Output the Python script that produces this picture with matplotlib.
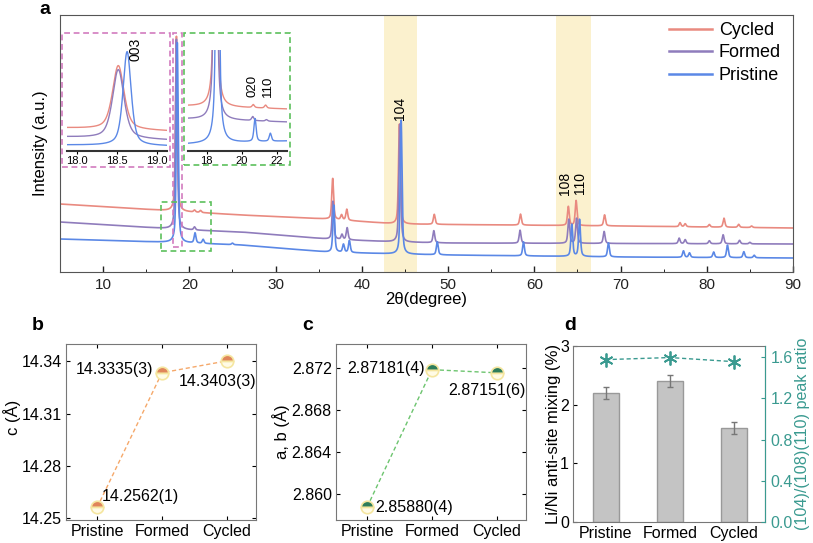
import matplotlib
matplotlib.use("Agg")
import matplotlib.pyplot as plt
import numpy as np
from matplotlib.patches import Rectangle

plt.rcParams["font.family"] = ["Liberation Sans", "DejaVu Sans"]

W, H = 813, 543

# ---- panel a: XRD patterns (peak positions in 2theta, heights above background, a.u.)
samples = ["Cycled", "Formed", "Pristine"]
colors = ["#e98a80", "#8f7cbc", "#5b88e6"]

bg_deg = [5, 20, 26, 36, 44, 50, 70, 90]
cycled_bg = [68, 60, 57, 53, 48, 47.5, 46, 44]
formed_bg = [50, 42, 40, 33, 30, 29, 28.5, 28]
pristine_bg = [33, 29, 27, 20, 18, 17, 15, 14]

cycled_pos = [18.50, 20.6, 21.3, 36.62, 37.65, 38.26, 44.36, 48.40, 58.40, 63.95, 64.85,
              68.15, 76.9, 77.5, 80.3, 82.0, 83.7, 85.2]
cycled_hgt = [175, 2, 2, 41, 5, 11, 100, 10, 11, 19, 25, 11, 4, 3, 2.5, 9, 3, 1.5]
formed_pos = [18.50, 20.6, 36.65, 37.7, 38.3, 44.40, 48.35, 58.35, 64.0, 64.9, 68.1,
              76.8, 77.5, 80.3, 81.9, 83.8, 85.0]
formed_hgt = [190, 3, 38, 5, 12, 118, 12, 13, 24, 25, 12, 5.5, 4, 3, 9, 3.5, 1.5]
pristine_pos = [18.60, 20.66, 21.6, 25.0, 36.75, 37.87, 38.56, 44.56, 48.75, 58.75, 64.35,
                65.25, 68.6, 77.3, 78.0, 80.8, 82.4, 84.3, 85.5]
pristine_hgt = [200, 10, 4, 1.5, 47, 8, 12, 134, 13, 14, 32, 37, 14, 6.5, 4.5, 5.5, 12.5, 6, 2.5]

# inset 1: 003 reflection close-up
in1_bg = [[22.7, 19.7], [13.7, 10.7], [5.7, 4.7]]
in1_pos = [18.52, 18.52, 18.63]
in1_hgt = [64, 69, 94]
in1_fwhm = [0.17, 0.17, 0.12]

# inset 2: 17-22.5 degree close-up
in2_bg = [[45, 42], [32, 29], [7, 10]]
in2_pos = [[18.5, 20.65, 21.35], [18.5, 20.62, 21.4], [18.62, 20.75, 21.62]]
in2_hgt = [[650, 3, 3], [650, 4, 1.5], [650, 23, 8]]

bands = [(42.6, 46.4), (62.5, 66.6)]

# ---- panels b-d
states = ["Pristine", "Formed", "Cycled"]
c_vals = [14.2562, 14.3335, 14.3403]
c_text = ["14.2562(1)", "14.3335(3)", "14.3403(3)"]
ab_vals = [2.85880, 2.87181, 2.87151]
ab_text = ["2.85880(4)", "2.87181(4)", "2.87151(6)"]
mixing = [2.2, 2.4, 1.6]
mixing_err = [0.1, 0.1, 0.1]
peak_ratio = [1.575, 1.595, 1.555]


def pattern(x, bx, by, pos, hgt, fwhm=0.25, eta=0.55):
    y = np.interp(x, bx, by)
    for p, h in zip(pos, hgt):
        d = 2 * (x - p) / fwhm
        y = y + h * (eta / (1 + d ** 2) + (1 - eta) * np.exp(-np.log(2) * d ** 2))
    return y


def px_axes(fig, x0, y0, x1, y1):
    return fig.add_axes([x0 / W, 1 - y1 / H, (x1 - x0) / W, (y1 - y0) / H])


fig = plt.figure(figsize=(W / 100, H / 100), dpi=100)
spine_col = "#555555"

# ================= panel a
ax = px_axes(fig, 60, 15, 793, 272)
x = np.linspace(5, 90, 6000)
bgs = [cycled_bg, formed_bg, pristine_bg]
poss = [cycled_pos, formed_pos, pristine_pos]
hgts = [cycled_hgt, formed_hgt, pristine_hgt]
for lab, col, bg, pos, hgt in zip(samples, colors, bgs, poss, hgts):
    ax.plot(x, pattern(x, bg_deg, bg, pos, hgt), color=col, lw=1.2, label=lab, zorder=2)
for lo, hi in bands:
    ax.axvspan(lo, hi, color="#f8e6a6", alpha=0.55, lw=0, zorder=0)

ax.set_xlim(5, 90)
ax.set_ylim(0, 257)
ax.set_yticks([])
ax.set_xticks(np.arange(10, 91, 10))
ax.set_xticks(np.arange(15, 90, 10), minor=True)
ax.tick_params(axis="x", direction="in", length=4, width=1, labelsize=11, pad=4, colors="#222222")
ax.tick_params(axis="x", which="minor", direction="in", length=2.5)
for s in ax.spines.values():
    s.set_color(spine_col)
ax.set_xlabel("2θ(degree)", fontsize=12)
ax.xaxis.set_label_coords(0.5, -0.078)
ax.set_ylabel("Intensity (a.u.)", fontsize=12)
ax.yaxis.set_label_coords(-0.017, 0.5)

ax.text(44.44, 164, "104", rotation=90, ha="center", va="center", fontsize=10)
ax.text(63.6, 88.7, "108", rotation=90, ha="center", va="center", fontsize=10)
ax.text(65.3, 88.7, "110", rotation=90, ha="center", va="center", fontsize=10)

leg = ax.legend(loc="upper left", bbox_to_anchor=(669 / W, 1 - 22 / H),
                bbox_transform=fig.transFigure, frameon=False, fontsize=13,
                handlelength=2.4, handletextpad=0.35, labelspacing=0.3,
                borderpad=0, borderaxespad=0)
for lh in leg.get_lines():
    lh.set_linewidth(1.8)

pink = "#d27cbf"
green = "#5cc05c"
boxes = [((5.27, 105.3), 17.76 - 5.27, 238.7 - 105.3, pink),
         ((18.07, 25), 19.2 - 18.07, 238.7 - 25, pink),
         ((19.42, 107), 31.68 - 19.42, 238.7 - 107, green),
         ((16.7, 21), 22.5 - 16.7, 70 - 21, green)]
for xy, w, h, col in boxes:
    ax.add_patch(Rectangle(xy, w, h, fill=False, ls=(0, (3.5, 2.2)), lw=1.2,
                           edgecolor=col, zorder=4, clip_on=False))

# inset 1
a1 = px_axes(fig, 66.7, 42, 166.7, 150.7)
x1 = np.linspace(17.875, 19.125, 800)
for col, bg, p, h, w in zip(colors, in1_bg, in1_pos, in1_hgt, in1_fwhm):
    a1.plot(x1, pattern(x1, [17.875, 19.125], bg, [p], [h], fwhm=w, eta=0.55), color=col, lw=1.0)
a1.set_xlim(17.875, 19.125)
a1.set_ylim(0, 108.7)
a1.patch.set_alpha(0)
for k in ["left", "right", "top"]:
    a1.spines[k].set_visible(False)
a1.spines["bottom"].set_color("#333333")
a1.spines["bottom"].set_linewidth(1.5)
a1.set_yticks([])
a1.set_xticks([18.0, 18.5, 19.0])
a1.set_xticklabels(["18.0", "18.5", "19.0"])
a1.tick_params(axis="x", direction="out", length=2, labelsize=8, pad=1.5)
a1.text(18.73, 101.7, "003", rotation=90, ha="center", va="center", fontsize=10, clip_on=False)

# inset 2
a2 = px_axes(fig, 188, 50, 286.7, 151)
x2 = np.linspace(16.94, 22.55, 1500)
for col, bg, p, h in zip(colors, in2_bg, in2_pos, in2_hgt):
    a2.plot(x2, pattern(x2, [16.94, 22.55], bg, p, h, fwhm=0.15, eta=0.6), color=col, lw=1.0)
a2.set_xlim(16.94, 22.55)
a2.set_ylim(0, 101)
a2.patch.set_alpha(0)
for k in ["left", "right", "top"]:
    a2.spines[k].set_visible(False)
a2.spines["bottom"].set_color("#333333")
a2.spines["bottom"].set_linewidth(1.5)
a2.set_yticks([])
a2.set_xticks([18, 20, 22])
a2.tick_params(axis="x", direction="out", length=2, labelsize=8, pad=1.5)
a2.text(20.58, 65, "020", rotation=90, ha="center", va="center", fontsize=9.5)
a2.text(21.49, 65, "110", rotation=90, ha="center", va="center", fontsize=9.5)

fig.text(45 / W, 1 - 9 / H, "a", fontsize=14, fontweight="bold", ha="center", va="center")

# ================= panels b, c
xpos = np.arange(len(states))


def lattice_panel(box, vals, texts, ylim, ticks, fmt, top_col, line_col, ylabel, offsets, label_xy):
    axp = px_axes(fig, *box)
    axp.plot(xpos, vals, ls=(0, (3, 2)), lw=1.0, color=line_col, marker="o", ms=9,
             fillstyle="top", mfc=top_col, mfcalt="#fffbe6", mec="#f5e6a0", mew=1.2)
    for xi, v, t, (dx, dy, ha) in zip(xpos, vals, texts, offsets):
        axp.annotate(t, (xi, v), xytext=(dx, dy), textcoords="offset points",
                     ha=ha, va="center", fontsize=11.5)
    axp.set_xlim(-0.48, 2.45)
    axp.set_ylim(*ylim)
    axp.set_yticks(ticks)
    axp.set_yticklabels([fmt.format(t) for t in ticks])
    axp.set_xticks(xpos)
    axp.set_xticklabels(states)
    axp.tick_params(direction="in", top=True, right=True, length=3, labelsize=11.5, pad=3)
    for s in axp.spines.values():
        s.set_color("#777777")
    axp.set_ylabel(ylabel, fontsize=12)
    axp.yaxis.set_label_coords(*label_xy)
    return axp


lattice_panel((66, 344, 256, 520), c_vals, c_text, (14.249, 14.350),
              [14.25, 14.28, 14.31, 14.34], "{:.2f}", "#e0855a", "#f5a86a", "c (Å)",
              [(3, 8, "left"), (-6, 2, "right"), (-7, -15, "center")], (-0.237, 0.585))
lattice_panel((336, 344, 526, 520), ab_vals, ab_text, (2.85757, 2.87424),
              [2.860, 2.864, 2.868, 2.872], "{:.3f}", "#2e7d5b", "#6cc46e", "a, b (Å)",
              [(6, 0, "left"), (-5, 1, "right"), (-7, -12.5, "center")], (-0.24, 0.5))

fig.text(38 / W, 1 - 325 / H, "b", fontsize=14, fontweight="bold", ha="center", va="center")
fig.text(308 / W, 1 - 325 / H, "c", fontsize=14, fontweight="bold", ha="center", va="center")
fig.text(570 / W, 1 - 325 / H, "d", fontsize=14, fontweight="bold", ha="center", va="center")

# ================= panel d
teal = "#3a9a90"
ad = px_axes(fig, 573, 346, 765, 522)
ad.bar(xpos, mixing, width=0.4, yerr=mixing_err, color="#c4c4c4", edgecolor="#999999",
       lw=1.0, capsize=2, error_kw=dict(ecolor="#777777", elinewidth=1, capthick=1), zorder=2)
ad.set_xlim(-0.51, 2.48)
ad.set_ylim(0, 3)
ad.set_yticks([0, 1, 2, 3])
ad.set_xticks(xpos)
ad.set_xticklabels(states)
ad.tick_params(direction="in", length=3, labelsize=11.5, pad=3)
ad.tick_params(axis="x", length=0)
ad.set_ylabel("Li/Ni anti-site mixing (%)", fontsize=12)
ad.yaxis.set_label_coords(-0.0625, 0.5)
for s in ad.spines.values():
    s.set_color("#777777")

ad2 = ad.twinx()
ad2.plot(xpos, peak_ratio, ls=(0, (3, 2)), lw=1.0, color=teal, marker=(6, 2, 0),
         ms=10, mew=1.3)
ad2.set_ylim(0, 1.707)
ad2.set_yticks([0.0, 0.4, 0.8, 1.2, 1.6])
ad2.set_yticklabels(["0.0", "0.4", "0.8", "1.2", "1.6"])
ad2.tick_params(direction="in", length=3, labelsize=11.5, pad=4, colors=teal)
ad2.spines["right"].set_color(teal)
for k in ["left", "top", "bottom"]:
    ad2.spines[k].set_visible(False)
ad2.set_ylabel("(104)/(108)(110) peak ratio", fontsize=11.6, color=teal)
ad2.yaxis.set_label_coords(1.156, 0.5)

fig.savefig("out.png", dpi=100)
